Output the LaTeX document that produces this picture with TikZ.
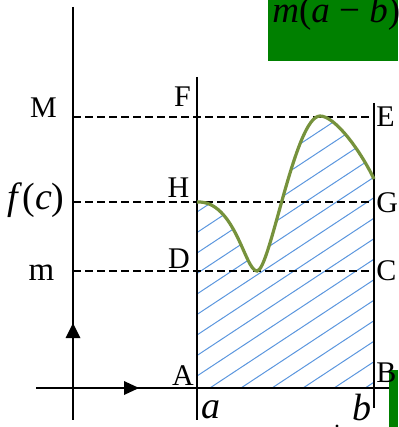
\documentclass[tikz,border=0pt]{standalone}
\usepackage{fontspec}
\setmainfont{Liberation Serif}
\definecolor{hatchblue}{RGB}{91,150,222}
\definecolor{curvegreen}{RGB}{118,146,60}
\definecolor{boxgreen}{RGB}{0,128,0}
\begin{document}
\begin{tikzpicture}[x=0.5pt,y=-0.5pt,
  axisline/.style={line width=1.2pt,black},
  guide/.style={line width=1pt,black,dash pattern=on 4pt off 2pt},
  lab/.style={font=\fontsize{15}{15}\selectfont,inner sep=0pt},
  mlab/.style={font=\fontsize{19}{19}\selectfont,inner sep=0pt},
  hatchline/.style={hatchblue,line width=0.5pt},
  curveline/.style={curvegreen,line width=1.6pt},
  tipfill/.style={fill=black,draw=none},
  greenbox/.style={fill=boxgreen,draw=none}]
\useasboundingbox (0,0) rectangle (398,427);
\clip (0,0) rectangle (398,427);
% coordinates
\coordinate (ytop) at (73,7);
\coordinate (ybot) at (73,420);
\coordinate (xleft) at (36,388);
\coordinate (xright) at (389,388);
\coordinate (atop) at (197,77);
\coordinate (abot) at (197,420);
\coordinate (btop) at (374,103);
\coordinate (bbot) at (374,408);
\coordinate (pA) at (197,388);
\coordinate (pB) at (374,388);
\coordinate (pH) at (197,202);
\coordinate (pmin) at (257,271);
\coordinate (pmax) at (320,116);
\coordinate (pend) at (374,179);
\coordinate (yM) at (73,117);
\coordinate (pE) at (374,117);
\coordinate (yfc) at (73,202);
\coordinate (pG) at (374,202);
\coordinate (ym) at (73,271);
\coordinate (pC) at (374,271);
% green boxes
\fill[greenbox] (268,0) rectangle (398,61);
\fill[greenbox] (389,370) rectangle (398,427);
\node[font=\fontsize{18.5}{18.5}\selectfont,inner sep=0pt,anchor=base west] (topformula) at (272,23) {\textit{m}(\textit{a} − \textit{b})};
% hatching
\begin{scope}
  \clip (pA) -- (pH) .. controls (235,200) and (245,271) .. (pmin)
        .. controls (270,271) and (295,116) .. (pmax)
        .. controls (335,116) and (360,150) .. (pend) -- (pB) -- cycle;
  \foreach \k in {-1,...,16} \draw[hatchline] (197,{212+20.5*\k}) -- ++(200,-132);
\end{scope}
% dashed guides
\draw[guide] (yM) -- (pE);
\draw[guide] (yfc) -- (pG);
\draw[guide] (ym) -- (pC);
% axes and verticals
\draw[axisline] (ytop) -- (ybot);
\draw[axisline] (xleft) -- (xright);
\draw[axisline] (atop) -- (abot);
\draw[axisline] (btop) -- (bbot);
\fill[tipfill] (73,323) -- (65.5,338) -- (80.5,338) -- cycle;
\fill[tipfill] (139,388) -- (124,381) -- (124,395) -- cycle;
% curve
\draw[curveline] (pH) .. controls (235,200) and (245,271) .. (pmin)
      .. controls (270,271) and (295,116) .. (pmax)
      .. controls (335,116) and (360,150) .. (pend);
% labels
\node[lab,anchor=base] (lM) at (43.5,118) {M};
\node[lab,anchor=base] (lF) at (182.5,107) {F};
\node[lab,anchor=base] (lH) at (178.5,197) {H};
\node[lab,anchor=base] (lD) at (179,268) {D};
\node[lab,anchor=base] (lA) at (183,385) {A};
\node[lab,anchor=base west] (lE) at (376,127) {E};
\node[lab,anchor=base west] (lG) at (376,212) {G};
\node[lab,anchor=base west] (lC) at (376,280) {C};
\node[lab,anchor=base west] (lB) at (376,382) {B};
\node[font=\fontsize{16.5}{16.5}\selectfont,inner sep=0pt,anchor=base] (lm) at (41.5,280) {m};
\node[mlab,anchor=base] (lfc) at (36,209) {\textit{f}(\textit{c})};
\node[mlab,anchor=base west] (la) at (201,418) {\textit{a}};
\node[mlab,anchor=base west] (lb) at (352,420) {\textit{b}};
\fill (337,426) circle (1.6);
\end{tikzpicture}
\end{document}
